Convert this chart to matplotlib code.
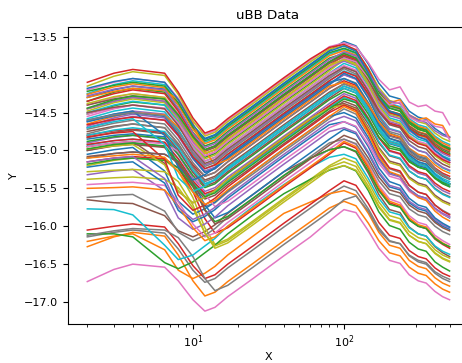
import matplotlib
matplotlib.use("Agg")
from matplotlib import pyplot as plt

# sample positions along x (log axis)
x_vals = [2, 3, 4, 6.5, 8, 10, 12, 14, 17, 25, 40, 60, 80, 100,
          120, 145, 170, 200, 235, 270, 310, 350, 400, 450, 500]

# curves in plotting order (colour comes from the default cycle)
y_00 = [-14.30, -14.20, -14.15, -14.19, -14.40, -14.68, -14.84, -14.79, -14.65, -14.41, -14.11, -13.86, -13.68, -13.56,
        -13.62, -13.86, -14.11, -14.28, -14.32, -14.48, -14.56, -14.59, -14.71, -14.78, -14.82]
y_01 = [-14.45, -14.35, -14.30, -14.35, -14.56, -14.86, -15.04, -14.99, -14.85, -14.61, -14.31, -14.06, -13.88, -13.80,
        -13.86, -14.09, -14.32, -14.48, -14.52, -14.67, -14.75, -14.78, -14.89, -14.96, -15.00]
y_02 = [-14.52, -14.41, -14.36, -14.40, -14.62, -14.92, -15.09, -15.04, -14.90, -14.66, -14.36, -14.11, -13.93, -13.78,
        -13.84, -14.08, -14.33, -14.50, -14.54, -14.70, -14.78, -14.81, -14.93, -15.00, -15.04]
y_03 = [-14.80, -14.74, -14.72, -14.76, -14.94, -15.19, -15.34, -15.29, -15.15, -14.91, -14.61, -14.36, -14.18, -14.08,
        -14.14, -14.38, -14.63, -14.80, -14.84, -15.00, -15.08, -15.11, -15.23, -15.30, -15.34]
y_04 = [-14.90, -14.83, -14.80, -14.85, -15.06, -15.36, -15.54, -15.49, -15.35, -15.11, -14.81, -14.56, -14.38, -14.25,
        -14.31, -14.57, -14.83, -15.01, -15.05, -15.22, -15.30, -15.33, -15.46, -15.53, -15.57]
y_05 = [-14.95, -14.90, -14.88, -15.17, -15.54, -15.69, -15.62, -15.53, -15.38, -15.13, -14.83, -14.58, -14.42, -14.38,
        -14.44, -14.70, -14.96, -15.14, -15.18, -15.35, -15.43, -15.46, -15.59, -15.66, -15.70]
y_06 = [-14.20, -14.10, -14.05, -14.10, -14.31, -14.61, -14.79, -14.74, -14.60, -14.36, -14.06, -13.81, -13.63, -13.58,
        -13.63, -13.84, -14.06, -14.20, -14.16, -14.36, -14.42, -14.40, -14.48, -14.50, -14.66]
y_07 = [-15.00, -14.93, -14.90, -14.95, -15.20, -15.54, -15.74, -15.69, -15.55, -15.31, -15.01, -14.76, -14.58, -14.45,
        -14.52, -14.78, -15.06, -15.24, -15.29, -15.46, -15.55, -15.58, -15.72, -15.79, -15.84]
y_08 = [-14.15, -14.02, -13.96, -14.01, -14.26, -14.61, -14.81, -14.76, -14.62, -14.38, -14.08, -13.83, -13.66, -13.62,
        -13.68, -13.92, -14.17, -14.34, -14.38, -14.54, -14.62, -14.65, -14.77, -14.84, -14.88]
y_09 = [-14.25, -14.13, -14.08, -14.13, -14.37, -14.70, -14.89, -14.84, -14.70, -14.46, -14.16, -13.91, -13.73, -13.66,
        -13.72, -13.96, -14.21, -14.38, -14.42, -14.58, -14.66, -14.69, -14.81, -14.88, -14.92]
y_10 = [-14.85, -14.80, -14.78, -14.82, -15.01, -15.28, -15.44, -15.39, -15.25, -15.01, -14.71, -14.46, -14.28, -14.15,
        -14.21, -14.47, -14.73, -14.91, -14.95, -15.12, -15.20, -15.23, -15.36, -15.43, -15.47]
y_11 = [-16.27, -16.14, -16.08, -16.13, -16.38, -16.72, -16.92, -16.87, -16.73, -16.49, -16.19, -15.94, -15.76, -15.67,
        -15.73, -15.96, -16.19, -16.35, -16.39, -16.54, -16.62, -16.65, -16.76, -16.83, -16.87]
y_12 = [-14.35, -14.23, -14.18, -14.23, -14.45, -14.76, -14.94, -14.89, -14.75, -14.51, -14.21, -13.96, -13.78, -13.72,
        -13.78, -14.02, -14.27, -14.44, -14.48, -14.64, -14.72, -14.75, -14.87, -14.94, -14.98]
y_13 = [-14.10, -13.98, -13.93, -13.98, -14.23, -14.57, -14.77, -14.72, -14.58, -14.34, -14.04, -13.79, -13.64, -13.60,
        -13.67, -13.93, -14.21, -14.39, -14.44, -14.61, -14.70, -14.73, -14.87, -14.94, -14.99]
y_14 = [-14.62, -14.52, -14.48, -14.52, -14.73, -15.02, -15.19, -15.14, -15.00, -14.76, -14.46, -14.21, -14.03, -13.90,
        -13.96, -14.20, -14.45, -14.62, -14.66, -14.82, -14.90, -14.93, -15.05, -15.12, -15.16]
y_15 = [-15.65, -15.69, -15.70, -15.86, -16.06, -16.14, -16.07, -15.98, -15.83, -15.58, -15.28, -15.10, -14.99, -14.95,
        -15.02, -15.30, -15.58, -15.78, -15.82, -16.01, -16.10, -16.13, -16.27, -16.35, -16.40]
y_16 = [-14.40, -14.30, -14.25, -14.30, -14.51, -14.81, -14.99, -14.94, -14.80, -14.56, -14.26, -14.01, -13.83, -13.70,
        -13.76, -14.00, -14.25, -14.42, -14.46, -14.62, -14.70, -14.73, -14.85, -14.92, -14.96]
y_17 = [-16.14, -16.08, -16.05, -16.09, -16.30, -16.58, -16.74, -16.69, -16.55, -16.31, -16.01, -15.76, -15.58, -15.47,
        -15.53, -15.77, -16.02, -16.19, -16.23, -16.39, -16.47, -16.50, -16.62, -16.69, -16.73]
y_18 = [-15.20, -15.13, -15.10, -15.13, -15.27, -15.62, -16.02, -16.24, -16.17, -15.93, -15.63, -15.38, -15.20, -15.10,
        -15.16, -15.42, -15.68, -15.86, -15.90, -16.07, -16.15, -16.18, -16.31, -16.38, -16.42]
y_19 = [-14.58, -14.48, -14.44, -14.49, -14.72, -15.05, -15.24, -15.19, -15.05, -14.81, -14.51, -14.26, -14.08, -13.95,
        -14.01, -14.27, -14.53, -14.71, -14.75, -14.92, -15.00, -15.03, -15.16, -15.23, -15.27]
y_20 = [-15.05, -14.99, -14.96, -15.27, -15.67, -15.84, -15.77, -15.68, -15.53, -15.28, -14.98, -14.73, -14.55, -14.50,
        -14.57, -14.83, -15.11, -15.29, -15.34, -15.51, -15.60, -15.63, -15.77, -15.84, -15.89]
y_21 = [-16.20, -16.13, -16.10, -16.31, -16.58, -16.69, -16.62, -16.53, -16.38, -16.13, -15.83, -15.68, -15.57, -15.53,
        -15.59, -15.83, -16.08, -16.25, -16.29, -16.45, -16.53, -16.56, -16.68, -16.75, -16.79]
y_22 = [-16.10, -16.10, -16.14, -16.48, -16.56, -16.47, -16.35, -16.25, -16.10, -15.85, -15.57, -15.38, -15.26, -15.20,
        -15.27, -15.53, -15.81, -15.99, -16.04, -16.21, -16.30, -16.33, -16.47, -16.54, -16.59]
y_23 = [-16.05, -16.00, -15.97, -16.01, -16.23, -16.52, -16.69, -16.64, -16.50, -16.26, -15.96, -15.71, -15.53, -15.40,
        -15.46, -15.70, -15.95, -16.12, -16.16, -16.32, -16.40, -16.43, -16.55, -16.62, -16.66]
y_24 = [-14.70, -14.60, -14.55, -14.60, -14.81, -15.11, -15.29, -15.24, -15.10, -14.86, -14.56, -14.31, -14.13, -14.00,
        -14.06, -14.30, -14.55, -14.72, -14.76, -14.92, -15.00, -15.03, -15.15, -15.22, -15.26]
y_25 = [-14.75, -14.68, -14.65, -14.70, -14.91, -15.21, -15.39, -15.34, -15.20, -14.96, -14.66, -14.41, -14.23, -14.12,
        -14.18, -14.42, -14.67, -14.84, -14.88, -15.04, -15.12, -15.15, -15.27, -15.34, -15.38]
y_26 = [-16.73, -16.57, -16.50, -16.54, -16.72, -16.97, -17.12, -17.07, -16.93, -16.69, -16.39, -16.14, -15.93, -15.78,
        -15.82, -16.06, -16.29, -16.45, -16.49, -16.64, -16.72, -16.75, -16.86, -16.93, -16.97]
y_27 = [-16.12, -16.06, -16.03, -16.05, -16.15, -16.40, -16.69, -16.85, -16.78, -16.54, -16.24, -15.99, -15.81, -15.65,
        -15.60, -15.80, -16.05, -16.20, -16.23, -16.38, -16.45, -16.48, -16.60, -16.66, -16.70]
y_28 = [-14.48, -14.37, -14.32, -14.37, -14.60, -14.92, -15.11, -15.06, -14.92, -14.68, -14.38, -14.13, -13.95, -13.80,
        -13.86, -14.10, -14.35, -14.52, -14.56, -14.72, -14.80, -14.83, -14.95, -15.02, -15.06]
y_29 = [-15.77, -15.78, -15.85, -16.25, -16.44, -16.38, -16.26, -16.16, -16.00, -15.74, -15.45, -15.22, -15.09, -15.05,
        -15.11, -15.37, -15.63, -15.81, -15.85, -16.02, -16.10, -16.13, -16.26, -16.33, -16.37]
y_30 = [-15.10, -15.04, -15.02, -15.05, -15.15, -15.42, -15.72, -15.89, -15.82, -15.58, -15.28, -15.03, -14.85, -14.72,
        -14.78, -15.04, -15.30, -15.48, -15.52, -15.69, -15.77, -15.80, -15.93, -16.00, -16.04]
y_31 = [-14.65, -14.55, -14.50, -14.53, -14.69, -14.91, -15.04, -14.99, -14.85, -14.61, -14.31, -14.06, -13.88, -13.75,
        -13.80, -14.01, -14.23, -14.37, -14.33, -14.53, -14.59, -14.57, -14.65, -14.67, -14.83]
y_32 = [-14.88, -14.82, -14.80, -14.84, -15.05, -15.33, -15.49, -15.44, -15.30, -15.06, -14.76, -14.51, -14.33, -14.22,
        -14.28, -14.52, -14.77, -14.94, -14.98, -15.14, -15.22, -15.25, -15.37, -15.44, -15.48]
y_33 = [-15.15, -15.10, -15.08, -15.11, -15.23, -15.54, -15.90, -16.09, -16.02, -15.78, -15.48, -15.23, -15.05, -14.90,
        -14.97, -15.23, -15.51, -15.69, -15.74, -15.91, -16.00, -16.03, -16.17, -16.24, -16.29]
y_34 = [-15.32, -15.27, -15.25, -15.53, -15.89, -16.04, -15.97, -15.88, -15.73, -15.48, -15.18, -14.93, -14.75, -14.70,
        -14.76, -15.02, -15.28, -15.46, -15.50, -15.67, -15.75, -15.78, -15.91, -15.98, -16.02]
y_35 = [-15.00, -14.94, -14.92, -14.96, -15.18, -15.47, -15.64, -15.59, -15.45, -15.21, -14.91, -14.66, -14.48, -14.35,
        -14.41, -14.65, -14.90, -15.07, -15.11, -15.27, -15.35, -15.38, -15.50, -15.57, -15.61]
y_36 = [-15.45, -15.43, -15.42, -15.46, -15.68, -15.97, -16.14, -16.09, -15.95, -15.71, -15.41, -15.16, -14.98, -14.85,
        -14.92, -15.18, -15.46, -15.64, -15.69, -15.86, -15.95, -15.98, -16.12, -16.19, -16.24]
y_37 = [-15.62, -15.59, -15.58, -15.80, -16.08, -16.19, -16.12, -16.03, -15.88, -15.63, -15.33, -15.08, -14.90, -14.85,
        -14.91, -15.15, -15.40, -15.57, -15.61, -15.77, -15.85, -15.88, -16.00, -16.07, -16.11]
y_38 = [-15.38, -15.36, -15.35, -15.38, -15.49, -15.76, -16.09, -16.26, -16.19, -15.95, -15.65, -15.40, -15.22, -15.15,
        -15.21, -15.47, -15.73, -15.91, -15.95, -16.12, -16.20, -16.23, -16.36, -16.43, -16.47]
y_39 = [-14.93, -14.87, -14.85, -14.90, -15.11, -15.41, -15.59, -15.54, -15.40, -15.16, -14.86, -14.61, -14.43, -14.30,
        -14.36, -14.62, -14.88, -15.06, -15.10, -15.27, -15.35, -15.38, -15.51, -15.58, -15.62]
y_40 = [-15.22, -15.17, -15.15, -15.43, -15.79, -15.94, -15.87, -15.78, -15.63, -15.38, -15.08, -14.83, -14.66, -14.62,
        -14.69, -14.95, -15.23, -15.41, -15.46, -15.63, -15.72, -15.75, -15.89, -15.96, -16.01]
y_41 = [-15.50, -15.49, -15.48, -15.52, -15.73, -16.02, -16.19, -16.14, -16.00, -15.76, -15.46, -15.21, -15.03, -14.88,
        -14.95, -15.21, -15.49, -15.67, -15.72, -15.89, -15.98, -16.01, -16.15, -16.22, -16.27]
y_42 = [-15.18, -15.12, -15.10, -15.13, -15.23, -15.48, -15.78, -15.94, -15.87, -15.63, -15.33, -15.10, -14.99, -14.95,
        -15.01, -15.27, -15.53, -15.71, -15.75, -15.92, -16.00, -16.03, -16.16, -16.23, -16.27]
y_43 = [-14.35, -14.25, -14.20, -14.25, -14.48, -14.80, -14.99, -14.94, -14.80, -14.56, -14.26, -14.01, -13.83, -13.74,
        -13.80, -14.06, -14.32, -14.50, -14.54, -14.71, -14.79, -14.82, -14.95, -15.02, -15.06]
y_44 = [-14.68, -14.57, -14.52, -14.57, -14.79, -15.09, -15.27, -15.22, -15.08, -14.84, -14.54, -14.29, -14.11, -14.00,
        -14.05, -14.27, -14.50, -14.65, -14.68, -14.83, -14.90, -14.93, -15.04, -15.10, -15.13]
y_45 = [-14.40, -14.32, -14.28, -14.32, -14.54, -14.84, -15.01, -14.96, -14.82, -14.58, -14.28, -14.03, -13.85, -13.76,
        -13.82, -14.06, -14.31, -14.48, -14.52, -14.68, -14.76, -14.79, -14.91, -14.98, -15.02]
y_46 = [-14.95, -14.90, -14.88, -14.91, -15.01, -15.27, -15.58, -15.74, -15.67, -15.43, -15.13, -14.88, -14.70, -14.62,
        -14.68, -14.92, -15.17, -15.34, -15.38, -15.54, -15.62, -15.65, -15.77, -15.84, -15.88]
y_47 = [-14.78, -14.69, -14.65, -14.70, -14.92, -15.23, -15.41, -15.36, -15.22, -14.98, -14.68, -14.43, -14.25, -14.12,
        -14.18, -14.44, -14.70, -14.88, -14.92, -15.09, -15.17, -15.20, -15.33, -15.40, -15.44]
y_48 = [-15.28, -15.26, -15.25, -15.28, -15.41, -15.72, -16.09, -16.29, -16.22, -15.98, -15.68, -15.43, -15.25, -15.20,
        -15.26, -15.50, -15.75, -15.92, -15.96, -16.12, -16.20, -16.23, -16.35, -16.42, -16.46]
y_49 = [-14.50, -14.40, -14.35, -14.40, -14.63, -14.95, -15.14, -15.09, -14.95, -14.71, -14.41, -14.16, -13.98, -13.85,
        -13.91, -14.15, -14.40, -14.57, -14.61, -14.77, -14.85, -14.88, -15.00, -15.07, -15.11]
y_50 = [-14.62, -14.54, -14.50, -14.55, -14.78, -15.10, -15.29, -15.24, -15.10, -14.86, -14.56, -14.31, -14.13, -13.98,
        -14.05, -14.31, -14.59, -14.77, -14.82, -14.99, -15.08, -15.11, -15.25, -15.32, -15.37]
y_51 = [-14.26, -14.16, -14.12, -14.17, -14.40, -14.72, -14.91, -14.86, -14.72, -14.48, -14.18, -13.93, -13.75, -13.68,
        -13.74, -13.98, -14.23, -14.40, -14.44, -14.60, -14.68, -14.71, -14.83, -14.90, -14.94]
y_52 = [-14.22, -14.14, -14.10, -14.15, -14.37, -14.69, -14.87, -14.82, -14.68, -14.44, -14.14, -13.89, -13.71, -13.65,
        -13.71, -13.97, -14.23, -14.41, -14.45, -14.62, -14.70, -14.73, -14.86, -14.93, -14.97]
y_53 = [-14.92, -14.87, -14.85, -14.89, -15.11, -15.40, -15.57, -15.52, -15.38, -15.14, -14.84, -14.59, -14.41, -14.28,
        -14.34, -14.58, -14.83, -15.00, -15.04, -15.20, -15.28, -15.31, -15.43, -15.50, -15.54]
y_54 = [-14.45, -14.35, -14.30, -14.35, -14.57, -14.89, -15.07, -15.02, -14.88, -14.64, -14.34, -14.09, -13.91, -13.82,
        -13.88, -14.12, -14.37, -14.54, -14.58, -14.74, -14.82, -14.85, -14.97, -15.04, -15.08]
y_55 = [-14.83, -14.76, -14.73, -14.78, -14.99, -15.29, -15.47, -15.42, -15.28, -15.04, -14.74, -14.49, -14.31, -14.18,
        -14.24, -14.48, -14.73, -14.90, -14.94, -15.10, -15.18, -15.21, -15.33, -15.40, -15.44]
y_56 = [-14.55, -14.45, -14.40, -14.45, -14.66, -14.96, -15.14, -15.09, -14.95, -14.71, -14.41, -14.16, -13.98, -13.88,
        -13.94, -14.18, -14.43, -14.60, -14.64, -14.80, -14.88, -14.91, -15.03, -15.10, -15.14]
y_57 = [-14.72, -14.64, -14.60, -14.65, -14.86, -15.16, -15.34, -15.29, -15.15, -14.91, -14.61, -14.36, -14.18, -14.05,
        -14.11, -14.37, -14.63, -14.81, -14.85, -15.02, -15.10, -15.13, -15.26, -15.33, -15.37]
y_58 = [-14.98, -14.94, -14.92, -15.19, -15.54, -15.69, -15.62, -15.53, -15.38, -15.13, -14.83, -14.58, -14.44, -14.40,
        -14.46, -14.72, -14.98, -15.16, -15.20, -15.37, -15.45, -15.48, -15.61, -15.68, -15.72]
y_59 = [-14.80, -14.73, -14.70, -14.75, -14.96, -15.26, -15.44, -15.39, -15.25, -15.01, -14.71, -14.46, -14.28, -14.15,
        -14.21, -14.45, -14.70, -14.87, -14.91, -15.07, -15.15, -15.18, -15.30, -15.37, -15.41]
y_60 = [-14.60, -14.52, -14.48, -14.80, -15.22, -15.39, -15.32, -15.23, -15.08, -14.83, -14.53, -14.28, -14.10, -14.05,
        -14.12, -14.38, -14.66, -14.84, -14.89, -15.06, -15.15, -15.18, -15.32, -15.39, -15.44]
y_61 = [-14.30, -14.22, -14.18, -14.21, -14.33, -14.64, -15.00, -15.19, -15.12, -14.88, -14.58, -14.33, -14.15, -14.10,
        -14.16, -14.39, -14.62, -14.78, -14.82, -14.97, -15.05, -15.08, -15.19, -15.26, -15.30]
y_62 = [-14.98, -14.92, -14.90, -14.94, -15.15, -15.44, -15.61, -15.56, -15.42, -15.18, -14.88, -14.63, -14.45, -14.32,
        -14.37, -14.59, -14.82, -14.97, -15.00, -15.15, -15.22, -15.25, -15.36, -15.42, -15.45]
y_63 = [-14.82, -14.77, -14.75, -15.12, -15.59, -15.79, -15.72, -15.63, -15.48, -15.23, -14.93, -14.68, -14.50, -14.40,
        -14.47, -14.75, -15.03, -15.23, -15.27, -15.46, -15.55, -15.58, -15.72, -15.80, -15.85]
y_64 = [-14.28, -14.19, -14.15, -14.20, -14.44, -14.77, -14.96, -14.91, -14.77, -14.53, -14.23, -13.98, -13.80, -13.70,
        -13.75, -13.97, -14.20, -14.35, -14.38, -14.53, -14.60, -14.63, -14.74, -14.80, -14.83]
y_65 = [-15.08, -15.04, -15.02, -15.05, -15.16, -15.45, -15.79, -15.97, -15.90, -15.66, -15.36, -15.11, -14.93, -14.80,
        -14.86, -15.10, -15.35, -15.52, -15.56, -15.72, -15.80, -15.83, -15.95, -16.02, -16.06]
y_66 = [-14.52, -14.44, -14.40, -14.44, -14.64, -14.91, -15.07, -15.02, -14.88, -14.64, -14.34, -14.09, -13.91, -13.78,
        -13.83, -14.04, -14.26, -14.40, -14.36, -14.56, -14.62, -14.60, -14.68, -14.70, -14.86]
y_67 = [-14.60, -14.53, -14.50, -14.54, -14.75, -15.04, -15.21, -15.16, -15.02, -14.78, -14.48, -14.23, -14.05, -13.92,
        -13.99, -14.27, -14.55, -14.75, -14.79, -14.98, -15.07, -15.10, -15.24, -15.32, -15.37]
y_68 = [-14.38, -14.29, -14.25, -14.30, -14.53, -14.85, -15.04, -14.99, -14.85, -14.61, -14.31, -14.06, -13.88, -13.80,
        -13.87, -14.13, -14.41, -14.59, -14.64, -14.81, -14.90, -14.93, -15.07, -15.14, -15.19]
y_69 = [-14.70, -14.62, -14.58, -14.92, -15.36, -15.54, -15.47, -15.38, -15.23, -14.98, -14.68, -14.43, -14.25, -14.18,
        -14.24, -14.48, -14.73, -14.90, -14.94, -15.10, -15.18, -15.21, -15.33, -15.40, -15.44]
y_70 = [-14.18, -14.09, -14.05, -14.10, -14.33, -14.66, -14.85, -14.80, -14.66, -14.42, -14.12, -13.87, -13.69, -13.62,
        -13.69, -13.98, -14.28, -14.48, -14.53, -14.72, -14.82, -14.86, -15.00, -15.08, -15.13]
y_71 = [-15.10, -15.07, -15.05, -15.09, -15.28, -15.55, -15.71, -15.66, -15.52, -15.28, -14.98, -14.73, -14.55, -14.42,
        -14.49, -14.78, -15.08, -15.28, -15.33, -15.52, -15.62, -15.66, -15.80, -15.88, -15.93]
y_72 = [-14.44, -14.33, -14.28, -14.32, -14.53, -14.82, -14.99, -14.94, -14.80, -14.56, -14.26, -14.01, -13.83, -13.72,
        -13.78, -14.02, -14.27, -14.44, -14.48, -14.64, -14.72, -14.75, -14.87, -14.94, -14.98]
y_73 = [-14.66, -14.59, -14.56, -14.60, -14.80, -15.08, -15.24, -15.19, -15.05, -14.81, -14.51, -14.26, -14.08, -13.96,
        -14.02, -14.25, -14.48, -14.64, -14.68, -14.83, -14.91, -14.94, -15.05, -15.12, -15.16]
y_74 = [-15.15, -15.10, -15.08, -15.37, -15.75, -15.91, -15.84, -15.75, -15.60, -15.35, -15.05, -14.80, -14.62, -14.55,
        -14.61, -14.87, -15.13, -15.31, -15.35, -15.52, -15.60, -15.63, -15.76, -15.83, -15.87]
y_75 = [-14.50, -14.43, -14.40, -14.45, -14.67, -14.99, -15.17, -15.12, -14.98, -14.74, -14.44, -14.19, -14.01, -13.90,
        -13.96, -14.22, -14.48, -14.66, -14.70, -14.87, -14.95, -14.98, -15.11, -15.18, -15.22]

curves = [y_00, y_01, y_02, y_03, y_04, y_05, y_06, y_07, y_08, y_09,
          y_10, y_11, y_12, y_13, y_14, y_15, y_16, y_17, y_18, y_19,
          y_20, y_21, y_22, y_23, y_24, y_25, y_26, y_27, y_28, y_29,
          y_30, y_31, y_32, y_33, y_34, y_35, y_36, y_37, y_38, y_39,
          y_40, y_41, y_42, y_43, y_44, y_45, y_46, y_47, y_48, y_49,
          y_50, y_51, y_52, y_53, y_54, y_55, y_56, y_57, y_58, y_59,
          y_60, y_61, y_62, y_63, y_64, y_65, y_66, y_67, y_68, y_69,
          y_70, y_71, y_72, y_73, y_74, y_75]


def main():
    plt.rcParams["font.size"] = 8
    fig = plt.figure(figsize=(4.62, 3.63), dpi=100)
    # axes runs past the right edge of the picture, like the reference crop
    ax = fig.add_axes([68 / 462, 39 / 363, 400 / 462, 297 / 363])
    for ys in curves:
        ax.plot(x_vals, ys, linewidth=1.1)
    ax.set_xscale("log")
    ax.set_xlim(1.49, 662)
    ax.set_ylim(-17.29, -13.37)
    ax.set_title("uBB Data")
    ax.set_xlabel("X", labelpad=1)
    ax.set_ylabel("Y")
    fig.savefig("out.png", dpi=100)


if __name__ == "__main__":
    main()
